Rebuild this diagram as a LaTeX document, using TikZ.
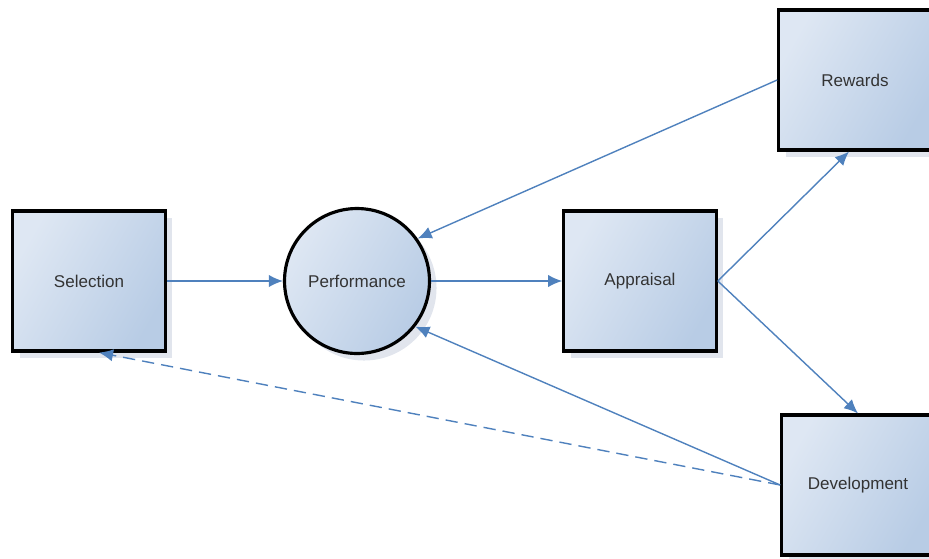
\documentclass[tikz,border=0pt]{standalone}
\usepackage{fontspec}
\setmainfont{Liberation Sans}
\usepackage{xcolor}
\usetikzlibrary{positioning,arrows.meta,shadows,calc}
\definecolor{linkblue}{RGB}{79,129,189}
\definecolor{fillhi}{RGB}{222,231,243}
\definecolor{filllo}{RGB}{184,204,229}
\definecolor{shadowcol}{RGB}{200,207,222}

\begin{document}
\begin{tikzpicture}[x=0.02cm, y=-0.02cm,
            box/.style={
                draw=black,
                line width=1.8pt,
                minimum width=3.05cm,
                minimum height=2.8cm,
                left color=fillhi,
                right color=filllo,
                shading angle=60,
                drop shadow={shadow xshift=4pt, shadow yshift=-4pt, fill=shadowcol, opacity=0.55},
                font=\fontsize{9.7}{12}\selectfont,
                text=black!80
            },
            roundbox/.style={box, circle, minimum size=2.9cm},
            link/.style={draw=linkblue, line width=0.8pt, -{Latex[length=8pt,width=7pt]}},
            dashlink/.style={link, dashed, dash pattern=on 7pt off 4pt}]
            \useasboundingbox (0,0) rectangle (929,558);
            % the five stages
            \node[box] (sel) at (89,281) {Selection};
            \node[roundbox] (perf) at (357,281) {Performance};
            \node[box] (appr) at (640,281) {Appraisal};
            \node[box] (rew) at (855,80) {Rewards};
            \node[box] (dev) at (858,485) {Development};
            % connectors
            \draw[link] (sel) -- (perf);
            \draw[link] (perf) -- (appr);
            \draw[link] (rew.west) -- (perf.35);
            \draw[link] (appr.east) -- ($(rew.south)+(-6,0)$);
            \draw[link] (appr.east) -- (dev.north);
            \draw[link] (dev.west) -- (perf.-38);
            \draw[dashlink] (dev.west) -- ($(sel.south)+(10,0)$);
            \end{tikzpicture}
\end{document}
